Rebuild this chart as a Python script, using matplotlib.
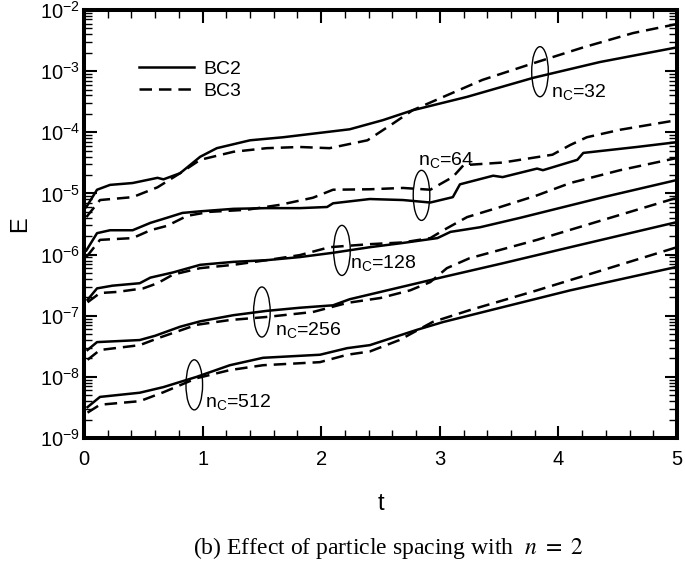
"""
Error growth E(t) for different particle spacings nC, BC2 vs BC3 (n = 2)
Output : out.png
"""

import numpy as np
import matplotlib
matplotlib.use('Agg')
import matplotlib.pyplot as plt
from matplotlib.patches import Ellipse
from matplotlib.lines import Line2D
from matplotlib.ticker import MultipleLocator, LogLocator, FuncFormatter, NullFormatter

plt.rcParams['font.family'] = ['Liberation Sans', 'DejaVu Sans']
plt.rcParams['mathtext.fontset'] = 'stix'
plt.rcParams['lines.scale_dashes'] = False

# ── Data ──────────────────────────────────────────────────────
t32_bc2 = [0.02, 0.11, 0.22, 0.41, 0.62, 0.67, 0.81, 0.98, 1.12, 1.40, 1.68, 1.99,
           2.24, 2.52, 2.77, 3.23, 3.79, 4.35, 5.0]
e32_bc2 = [6.0e-6, 1.15e-5, 1.38e-5, 1.48e-5, 1.80e-5, 1.70e-5, 2.14e-5, 3.98e-5,
           5.5e-5, 7.4e-5, 8.3e-5, 9.8e-5, 1.12e-4, 1.58e-4, 2.29e-4, 3.8e-4,
           7.8e-4, 1.41e-3, 2.45e-3]
t32_bc3 = [0.02, 0.135, 0.41, 0.62, 0.81, 0.98, 1.26, 1.54, 1.82, 2.07, 2.39, 2.61,
           2.77, 3.03, 3.36, 3.79, 4.21, 4.63, 5.0]
e32_bc3 = [4.1e-6, 7.8e-6, 8.7e-6, 1.26e-5, 2.14e-5, 3.55e-5, 4.8e-5, 5.5e-5,
           5.75e-5, 5.5e-5, 7.4e-5, 1.41e-4, 2.29e-4, 3.8e-4, 7.2e-4, 1.35e-3,
           2.45e-3, 4.2e-3, 5.9e-3]

t64_bc2 = [0.02, 0.11, 0.22, 0.41, 0.56, 0.70, 0.83, 0.98, 1.26, 1.54, 1.82, 2.05,
           2.10, 2.41, 2.69, 2.92, 3.11, 3.17, 3.45, 3.53, 3.82, 3.87, 4.16, 4.21,
           4.66, 5.0]
e64_bc2 = [1.17e-6, 2.24e-6, 2.5e-6, 2.5e-6, 3.3e-6, 4.0e-6, 4.8e-6, 5.1e-6,
           5.6e-6, 5.75e-6, 5.75e-6, 6.0e-6, 6.9e-6, 8.1e-6, 7.8e-6, 7.1e-6,
           8.7e-6, 1.41e-5, 1.95e-5, 1.85e-5, 2.55e-5, 2.4e-5, 3.55e-5, 4.6e-5,
           5.75e-5, 6.9e-5]
t64_bc3 = [0.02, 0.135, 0.41, 0.56, 0.70, 0.87, 1.06, 1.37, 1.65, 1.93, 2.10, 2.41,
           2.69, 2.92, 3.11, 3.20, 3.53, 3.95, 4.10, 4.24, 4.52, 5.0]
e64_bc3 = [9.1e-7, 1.74e-6, 1.86e-6, 2.5e-6, 2.95e-6, 4.3e-6, 5.0e-6, 5.4e-6,
           6.5e-6, 8.5e-6, 1.15e-5, 1.17e-5, 1.23e-5, 1.15e-5, 1.86e-5, 2.9e-5,
           3.2e-5, 4.3e-5, 6.2e-5, 8.3e-5, 1.1e-4, 1.58e-4]

t128_bc2 = [0.03, 0.11, 0.24, 0.47, 0.56, 0.75, 0.98, 1.26, 1.54, 1.82, 2.10, 2.41,
            2.69, 2.98, 3.09, 3.34, 3.68, 3.95, 4.38, 5.0]
e128_bc2 = [1.82e-7, 2.8e-7, 3.1e-7, 3.4e-7, 4.2e-7, 5.1e-7, 6.8e-7, 7.6e-7,
            8.1e-7, 9.1e-7, 1.07e-6, 1.32e-6, 1.55e-6, 1.86e-6, 2.35e-6, 2.8e-6,
            4.0e-6, 5.4e-6, 8.7e-6, 1.66e-5]
t128_bc3 = [0.03, 0.135, 0.28, 0.50, 0.62, 0.75, 0.98, 1.26, 1.54, 1.82, 2.07, 2.20,
            2.41, 2.69, 2.92, 3.03, 3.23, 3.51, 3.82, 4.10, 4.52, 5.0]
e128_bc3 = [1.66e-7, 2.35e-7, 2.45e-7, 2.8e-7, 3.4e-7, 4.7e-7, 6.0e-7, 6.8e-7,
            8.1e-7, 9.8e-7, 1.32e-6, 1.38e-6, 1.48e-6, 1.58e-6, 1.86e-6, 2.5e-6,
            4.1e-6, 6.0e-6, 9.3e-6, 1.48e-5, 2.4e-5, 3.8e-5]

t256_bc2 = [0.03, 0.11, 0.47, 0.60, 0.81, 0.98, 1.26, 1.54, 1.82, 2.10, 2.24, 2.50,
            2.81, 3.03, 3.53, 4.10, 5.0]
e256_bc2 = [2.75e-8, 3.7e-8, 4.0e-8, 4.7e-8, 6.6e-8, 8.1e-8, 1.02e-7, 1.2e-7,
            1.35e-7, 1.48e-7, 1.86e-7, 2.45e-7, 3.4e-7, 4.3e-7, 7.2e-7, 1.32e-6,
            3.4e-6]
t256_bc3 = [0.03, 0.135, 0.47, 0.64, 0.95, 1.23, 1.53, 1.93, 2.22, 2.50, 2.75, 2.92,
            3.06, 3.25, 3.82, 4.38, 5.0]
e256_bc3 = [1.9e-8, 2.75e-8, 3.3e-8, 4.4e-8, 7.1e-8, 8.5e-8, 9.5e-8, 1.15e-7,
            1.62e-7, 1.95e-7, 2.6e-7, 3.55e-7, 6.0e-7, 8.7e-7, 1.74e-6, 3.7e-6,
            8.5e-6]

t512_bc2 = [0.03, 0.135, 0.47, 0.67, 0.95, 1.23, 1.51, 1.99, 2.22, 2.41, 2.81, 3.03,
            3.53, 4.10, 5.0]
e512_bc2 = [3.2e-9, 4.7e-9, 5.5e-9, 6.8e-9, 1.0e-8, 1.55e-8, 2.05e-8, 2.3e-8,
            2.95e-8, 3.3e-8, 5.9e-8, 7.9e-8, 1.38e-7, 2.6e-7, 6.3e-7]
t512_bc3 = [0.03, 0.135, 0.47, 0.67, 0.95, 1.23, 1.51, 1.99, 2.22, 2.41, 2.66, 2.94,
            3.25, 3.82, 5.0]
e512_bc3 = [2.6e-9, 3.5e-9, 4.0e-9, 5.6e-9, 9.5e-9, 1.29e-8, 1.55e-8, 1.74e-8,
            2.3e-8, 2.6e-8, 4.0e-8, 7.9e-8, 1.23e-7, 2.6e-7, 1.32e-6]

# annotation: nC label, ellipse centre (t, E), label anchor (t, E)
nc_labels = ['32', '64', '128', '256', '512']
ell_t     = [3.845, 2.846, 2.175, 1.50, 0.93]
ell_e     = [9.8e-4, 9.3e-6, 1.17e-6, 1.15e-7, 7.4e-9]
lab_t     = [3.94, 2.82, 2.24, 1.61, 1.02]
lab_e     = [4.6e-4, 3.5e-5, 7.2e-7, 5.9e-8, 3.9e-9]

# ── Plot ──────────────────────────────────────────────────────
fig = plt.figure(figsize=(6.85, 5.76), dpi=100)
ax = fig.add_axes([0.1226, 0.2396, 0.8657, 0.743])
ax.set_yscale('log')
ax.set_xlim(0, 5)
ax.set_ylim(1e-9, 1e-2)

LW = 1.8
DASH = (9, 5)
pairs = [
    (t32_bc2, e32_bc2, t32_bc3, e32_bc3),
    (t64_bc2, e64_bc2, t64_bc3, e64_bc3),
    (t128_bc2, e128_bc2, t128_bc3, e128_bc3),
    (t256_bc2, e256_bc2, t256_bc3, e256_bc3),
    (t512_bc2, e512_bc2, t512_bc3, e512_bc3),
]
for ts, es, td, ed in pairs:
    ax.plot(ts, es, color='black', lw=LW, solid_joinstyle='round')
    ax.plot(td, ed, color='black', lw=LW, dashes=DASH)

# ellipses + nC labels
for lab, et, ee, lt, le in zip(nc_labels, ell_t, ell_e, lab_t, lab_e):
    xf = et / 5.0
    yf = (np.log10(ee) + 9) / 7.0
    ax.add_patch(Ellipse((xf, yf), 0.028, 0.117, transform=ax.transAxes,
                         fill=False, edgecolor='black', lw=1.0))
    ax.text(lt, le, r'$\mathregular{n_C}$=' + lab, fontsize=14,
            ha='left', va='center')

# legend
handles = [Line2D([], [], color='black', lw=LW),
           Line2D([], [], color='black', lw=LW, dashes=DASH)]
ax.legend(handles, ['BC2', 'BC3'], loc='upper left', bbox_to_anchor=(0.08, 0.9),
          frameon=False, fontsize=14, handlelength=2.8, handletextpad=0.5,
          labelspacing=0.2, borderaxespad=0)

# ── Axes formatting ───────────────────────────────────────────
for sp in ax.spines.values():
    sp.set_linewidth(2.9)

ax.xaxis.set_major_locator(MultipleLocator(1))
ax.xaxis.set_minor_locator(MultipleLocator(0.2))
ax.yaxis.set_major_locator(LogLocator(base=10, numticks=20))
ax.yaxis.set_minor_locator(LogLocator(base=10, subs=np.arange(2, 10), numticks=20))
ax.yaxis.set_major_formatter(
    FuncFormatter(lambda v, p: r'$\mathregular{10^{%d}}$' % round(np.log10(v))))
ax.yaxis.set_minor_formatter(NullFormatter())

ax.tick_params(which='both', direction='in', top=True, right=True,
               labelsize=14.5, colors='black')
ax.tick_params(axis='x', which='major', pad=9)
ax.tick_params(which='major', length=9, width=1.5)
ax.tick_params(axis='y', which='major', pad=3)
ax.tick_params(which='minor', length=5.5, width=1.0)

ax.set_xlabel('t', fontsize=17, labelpad=17)
ax.set_ylabel('E', fontsize=17, labelpad=6)

fig.text(0.567, 0.048,
         r'(b) Effect of particle spacing with  $\mathit{n}$ $=$ $2$',
         family='Liberation Serif', fontsize=17, ha='center', va='center')

plt.savefig('out.png', dpi=100)
print("Saved -> out.png")
